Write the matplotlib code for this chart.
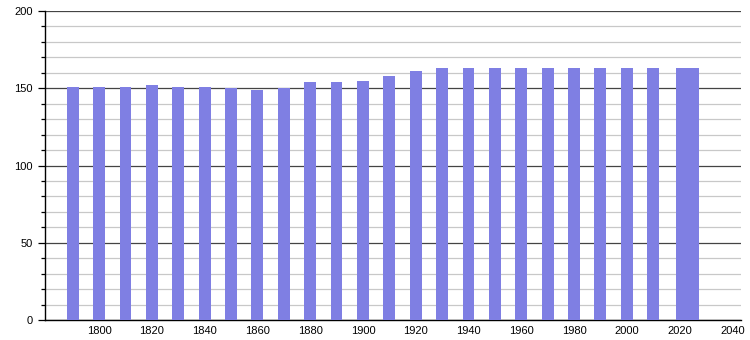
import matplotlib
matplotlib.use("Agg")
import matplotlib.pyplot as plt
from matplotlib.ticker import MultipleLocator

years = [1790, 1800, 1810, 1820, 1830, 1840, 1850, 1860, 1870, 1880, 1890, 1900,
         1910, 1920, 1930, 1940, 1950, 1960, 1970, 1980, 1990, 2000, 2010, 2021, 2025]
values = [151, 151, 151, 152, 151, 151, 150, 149, 150, 154, 154, 155,
          158, 161, 163, 163, 163, 163, 163, 163, 163, 163, 163, 163, 163]
xticks = [1800, 1820, 1840, 1860, 1880, 1900, 1920, 1940, 1960, 1980, 2000, 2020, 2040]
yticks = [0, 50, 100, 150, 200]

plt.rcParams['font.family'] = ['Liberation Sans', 'DejaVu Sans']
fig = plt.figure(figsize=(7.5, 3.4), dpi=100)
ax = fig.add_axes([0.06, 0.0588, 0.928, 0.9088])

ax.set_xlim(1779.5, 2043.3)
ax.set_ylim(0, 200)

ax.bar(years, values, width=4.5, color='#7f7fe3', zorder=3, linewidth=0)

ax.set_yticks(yticks)
ax.yaxis.set_minor_locator(MultipleLocator(10))
ax.set_xticks(xticks)
ax.set_xticklabels([str(t) for t in xticks])

ax.grid(axis='y', which='major', color='#444444', linewidth=0.9, zorder=1)
ax.grid(axis='y', which='minor', color='#c8c8c8', linewidth=0.9, zorder=0)
ax.set_axisbelow(True)

for s in ['top', 'right']:
    ax.spines[s].set_visible(False)
ax.spines['left'].set_color('#000000')
ax.spines['bottom'].set_color('#000000')
ax.spines['left'].set_linewidth(1.0)
ax.spines['bottom'].set_linewidth(1.0)

ax.tick_params(axis='y', which='major', length=5, width=0.9, labelsize=8, pad=4, colors='#000000')
ax.tick_params(axis='y', which='minor', length=3, width=0.9)
ax.tick_params(axis='x', which='both', length=0, labelsize=8, pad=4)

fig.savefig('out.png', dpi=100)
